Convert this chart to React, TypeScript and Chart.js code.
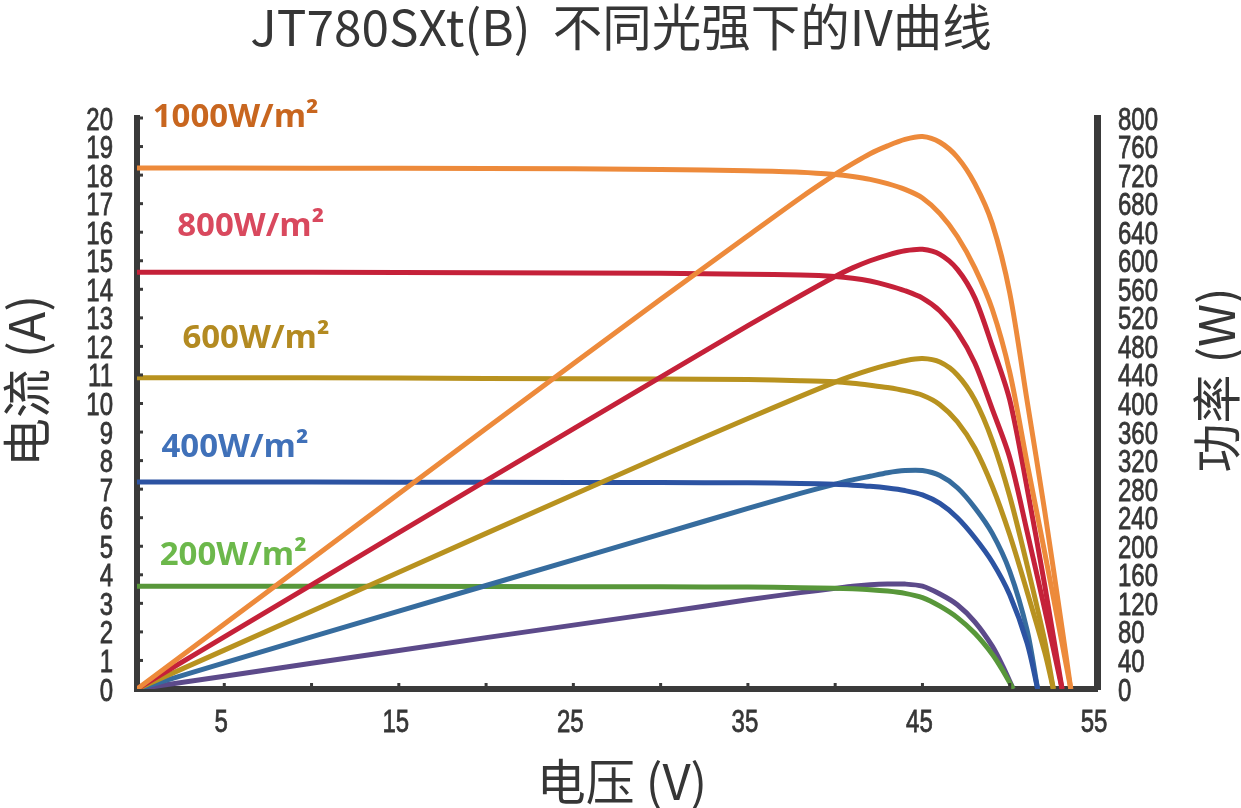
import { useEffect, useRef } from "react";
import { Chart, registerables } from "chart.js";

Chart.register(...registerables);

// Irradiance levels, top to bottom
const irradianceLabels = ["1000W/m²", "800W/m²", "600W/m²", "400W/m²", "200W/m²"];

// IV / power readings per irradiance (voltage V, current A, power W)
const voltage1000 = [0, 10, 20, 30, 35, 38, 40, 41, 42, 43, 44, 45, 46, 47, 48, 49, 50, 51, 52, 53, 53.5];
const current1000 = [18.25, 18.24, 18.23, 18.2, 18.15, 18.1, 18.02, 17.95, 17.85, 17.7, 17.5, 17.2, 16.65, 15.85, 14.75, 13.3, 11.1, 7.9, 4.8, 1.6, 0];
const power1000 = [0, 182, 365, 546, 635, 688, 721, 736, 750, 761, 770, 774, 766, 745, 708, 652, 555, 403, 250, 85, 0];

const voltage800 = [0, 10, 20, 30, 35, 38, 40, 41, 42, 43, 44, 45, 46, 47, 48, 49, 50, 51, 52, 53];
const current800 = [14.6, 14.6, 14.58, 14.56, 14.53, 14.5, 14.45, 14.39, 14.29, 14.14, 13.95, 13.69, 13.24, 12.51, 11.42, 9.8, 8.1, 5.5, 2.8, 0];
const power800 = [0, 146, 292, 437, 509, 551, 578, 590, 600, 608, 614, 616, 609, 588, 548, 480, 405, 281, 146, 0];

const voltage600 = [0, 10, 20, 30, 35, 38, 40, 41, 42, 43, 44, 45, 46, 47, 48, 49, 50, 51, 52, 52.5];
const current600 = [10.9, 10.9, 10.88, 10.86, 10.84, 10.8, 10.76, 10.71, 10.64, 10.56, 10.45, 10.29, 9.96, 9.36, 8.44, 7.1, 5.4, 3.4, 1.3, 0];
const power600 = [0, 109, 218, 326, 379, 410, 430, 439, 447, 454, 460, 463, 458, 440, 405, 348, 270, 173, 68, 0];

const voltage400 = [0, 10, 20, 30, 35, 38, 40, 41, 42, 43, 44, 45, 46, 47, 48, 49, 50, 51, 51.6];
const current400 = [7.25, 7.25, 7.24, 7.23, 7.22, 7.2, 7.17, 7.14, 7.1, 7.04, 6.95, 6.8, 6.5, 6.0, 5.3, 4.45, 3.3, 1.6, 0];
const power400 = [0, 73, 145, 217, 253, 274, 287, 293, 298, 303, 306, 306, 299, 282, 254, 218, 165, 82, 0];

const voltage200 = [0, 10, 20, 30, 35, 38, 40, 41, 42, 43, 44, 45, 46, 47, 48, 49, 49.6, 50.2];
const current200 = [3.6, 3.6, 3.59, 3.58, 3.57, 3.55, 3.53, 3.51, 3.48, 3.43, 3.35, 3.2, 2.9, 2.5, 1.95, 1.22, 0.65, 0];
const power200 = [0, 36, 72, 107, 125, 135, 141, 144, 146, 147, 147, 144, 133, 118, 94, 60, 32, 0];

// where each irradiance label sits (left edge, in volts / amps)
const labelAtVoltage = [0.9, 2.3, 2.6, 1.4, 1.3];
const labelAtCurrent = [20.0, 16.2, 12.27, 8.46, 4.69];

const ivColors = ["#ED8A3B", "#C52139", "#B8921F", "#2C53A2", "#58973A"];
const powerColors = ["#ED8A3B", "#C52139", "#B8921F", "#366C9E", "#5C4A8A"];
const labelColors = ["#C8661F", "#D9495E", "#B38A21", "#4071B9", "#6CB84B"];

const AXIS_COLOR = "#3a3a3a";
const TEXT_COLOR = "#363636";
const CJK = "'Noto Sans CJK SC', 'Noto Sans', sans-serif";
const TICK_FONT = "32px 'Liberation Sans', Arimo, sans-serif";
const TICK_SQUEEZE = 0.75;

const toPoints = (xs: number[], ys: number[]) => xs.map((x, i) => ({ x, y: ys[i] }));

// narrow tick text: the reference uses a condensed face
function narrowText(ctx: CanvasRenderingContext2D, text: string, x: number, y: number, align: CanvasTextAlign) {
  ctx.save();
  ctx.translate(x, y);
  ctx.scale(TICK_SQUEEZE, 1);
  ctx.textAlign = align;
  ctx.fillText(text, 0, 0);
  ctx.strokeText(text, 0, 0);
  ctx.restore();
}

const decorPlugin = {
  id: "decor",
  afterDraw(chart: Chart) {
    const { ctx, chartArea, scales } = chart;
    const x = scales.x;
    const y = scales.y;
    const y1 = scales.y1;
    ctx.save();

    // small inward tick marks
    ctx.strokeStyle = AXIS_COLOR;
    ctx.lineWidth = 3;
    x.ticks.forEach((t) => {
      if (t.value <= 0 || t.value >= 55) return;
      const px = x.getPixelForValue(t.value);
      ctx.beginPath();
      ctx.moveTo(px, chartArea.bottom);
      ctx.lineTo(px, chartArea.bottom - 6);
      ctx.stroke();
    });
    y.ticks.forEach((t) => {
      if (t.value <= 0) return;
      const py = y.getPixelForValue(t.value);
      ctx.beginPath();
      ctx.moveTo(chartArea.left, py);
      ctx.lineTo(chartArea.left + 6, py);
      ctx.stroke();
    });

    // tick labels
    ctx.fillStyle = TEXT_COLOR;
    ctx.strokeStyle = TEXT_COLOR;
    ctx.lineWidth = 0.8;
    ctx.font = TICK_FONT;
    ctx.textBaseline = "alphabetic";
    const half = 11.5;
    y.ticks.forEach((t) => {
      narrowText(ctx, String(t.value), chartArea.left - 24, y.getPixelForValue(t.value) + half, "right");
    });
    y1.ticks.forEach((t) => {
      narrowText(ctx, String(t.value), chartArea.right + 21, y1.getPixelForValue(t.value) + half, "left");
    });
    x.ticks.forEach((t) => {
      if (t.value % 10 !== 5) return;
      narrowText(ctx, String(t.value), x.getPixelForValue(t.value) - 3, chartArea.bottom + 43, "center");
    });

    // irradiance labels
    ctx.font = "bold 33px 'Open Sans', 'Noto Sans', sans-serif";
    ctx.textAlign = "left";
    ctx.textBaseline = "middle";
    irradianceLabels.forEach((label, i) => {
      ctx.fillStyle = labelColors[i];
      ctx.fillText(label, x.getPixelForValue(labelAtVoltage[i]), y.getPixelForValue(labelAtCurrent[i]));
    });

    // titles
    ctx.fillStyle = TEXT_COLOR;
    ctx.textAlign = "center";
    ctx.font = `49.5px ${CJK}`;
    ctx.fillText("JT780SXt(B)  不同光强下的IV曲线", 621, 27);

    ctx.font = `49px ${CJK}`;
    ctx.fillText("电压 (V)", 622, 781);

    ctx.save();
    ctx.translate(26, 381);
    ctx.rotate(-Math.PI / 2);
    ctx.fillText("电流 (A)", 0, 0);
    ctx.restore();

    ctx.save();
    ctx.translate(1216, 380);
    ctx.rotate(-Math.PI / 2);
    ctx.fillText("功率 (W)", 0, 0);
    ctx.restore();

    ctx.restore();
  },
};

export default function App() {
  const canvasRef = useRef<HTMLCanvasElement>(null);
  const chartRef = useRef<Chart | null>(null);

  useEffect(() => {
    if (!canvasRef.current) return;
    if (chartRef.current) chartRef.current.destroy();

    const voltages = [voltage1000, voltage800, voltage600, voltage400, voltage200];
    const currents = [current1000, current800, current600, current400, current200];
    const powers = [power1000, power800, power600, power400, power200];

    const lineStyle = {
      borderWidth: 5,
      pointRadius: 0,
      fill: false,
      tension: 0.3,
    };

    const datasets: any[] = [];
    irradianceLabels.forEach((label, i) => {
      datasets.push({
        ...lineStyle,
        label: `${label} I`,
        data: toPoints(voltages[i], currents[i]),
        borderColor: ivColors[i],
        yAxisID: "y",
      });
      datasets.push({
        ...lineStyle,
        label: `${label} P`,
        data: toPoints(voltages[i], powers[i]),
        borderColor: powerColors[i],
        yAxisID: "y1",
      });
    });

    chartRef.current = new Chart(canvasRef.current, {
      type: "line",
      data: { datasets },
      options: {
        animation: false,
        responsive: true,
        maintainAspectRatio: false,
        layout: { padding: { top: 118 } },
        plugins: {
          legend: { display: false },
          tooltip: { enabled: false },
        },
        scales: {
          x: {
            type: "linear",
            min: 0,
            max: 55,
            grid: { display: false },
            border: { color: AXIS_COLOR, width: 6 },
            ticks: { stepSize: 5, display: false },
            afterFit: (s) => {
              s.height = 119;
            },
          },
          y: {
            position: "left",
            min: 0,
            max: 20,
            grid: { display: false },
            border: { color: AXIS_COLOR, width: 6 },
            ticks: { stepSize: 1, display: false },
            afterFit: (s) => {
              s.width = 137;
            },
          },
          y1: {
            position: "right",
            min: 0,
            max: 800,
            grid: { display: false },
            border: { color: AXIS_COLOR, width: 7 },
            ticks: { stepSize: 40, display: false },
            afterFit: (s) => {
              s.width = 144;
            },
          },
        },
      },
      plugins: [decorPlugin],
    });

    return () => {
      if (chartRef.current) {
        chartRef.current.destroy();
        chartRef.current = null;
      }
    };
  }, []);

  return (
    <div style={{ position: "absolute", left: 0, top: 0, width: 1241, height: 808, background: "#fff" }}>
      <canvas ref={canvasRef}></canvas>
    </div>
  );
}
